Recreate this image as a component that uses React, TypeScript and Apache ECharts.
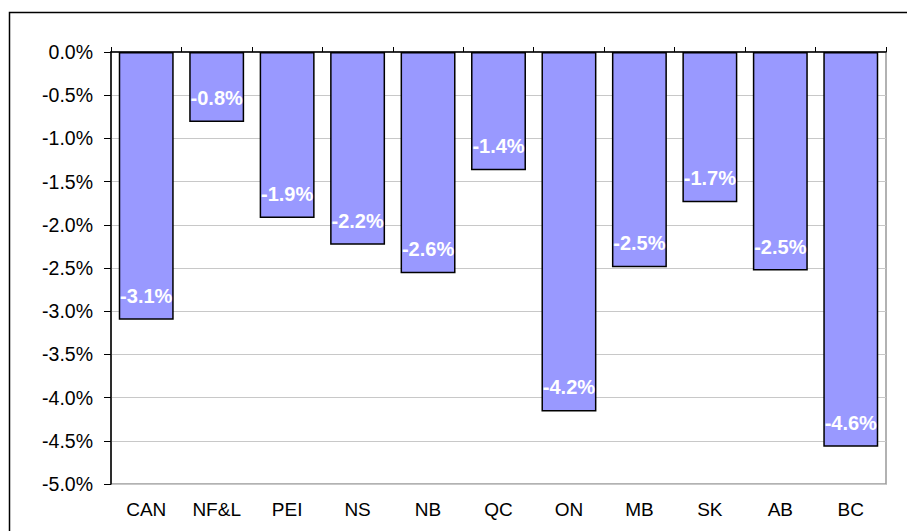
import React, { useEffect, useRef } from "react";
import * as echarts from "echarts";

const categories = ["CAN", "NF&L", "PEI", "NS", "NB", "QC", "ON", "MB", "SK", "AB", "BC"];
const values = [-3.1, -0.81, -1.92, -2.23, -2.56, -1.37, -4.16, -2.49, -1.74, -2.53, -4.57];
const labels = ["-3.1%", "-0.8%", "-1.9%", "-2.2%", "-2.6%", "-1.4%", "-4.2%", "-2.5%", "-1.7%", "-2.5%", "-4.6%"];

export default function App() {
  const ref = useRef<HTMLDivElement>(null);
  useEffect(() => {
    const chart = echarts.init(ref.current!, null, { renderer: "svg" });
    chart.setOption({
      animation: false,
      backgroundColor: "#ffffff",
      graphic: [
        {
          type: "rect",
          shape: { x: 9.5, y: 12.5, width: 1000, height: 1000 },
          style: { fill: "none", stroke: "#000", lineWidth: 1.5 },
          silent: true,
        },
      ],
      grid: {
        left: 111,
        top: 52,
        right: 21,
        bottom: 47,
        show: true,
        borderColor: "#999",
        borderWidth: 1.5,
        backgroundColor: "transparent",
      },
      xAxis: [
        {
          type: "category",
          data: categories,
          position: "top",
          axisLine: { show: true, lineStyle: { color: "#000", width: 1.5 } },
          axisTick: { show: true, inside: false, length: 5, lineStyle: { color: "#000" } },
          axisLabel: { show: false },
          splitLine: { show: false },
        },
        {
          type: "category",
          data: categories,
          position: "bottom",
          axisLine: { show: false },
          axisTick: { show: false },
          axisLabel: {
            show: true,
            color: "#000",
            fontFamily: "Arial, Liberation Sans, sans-serif",
            fontSize: 19,
            margin: 16,
          },
        },
      ],
      yAxis: {
        type: "value",
        min: -5,
        max: 0,
        interval: 0.5,
        axisLine: { show: true, lineStyle: { color: "#000", width: 1.5 } },
        axisTick: { show: true, length: 7, lineStyle: { color: "#000" } },
        axisLabel: {
          color: "#000",
          fontFamily: "Arial, Liberation Sans, sans-serif",
          fontSize: 19.5,
          margin: 18,
          formatter: (v: number) => v.toFixed(1) + "%",
        },
        splitLine: { show: true, lineStyle: { color: "#c8c8c8", width: 1 } },
      },
      series: [
        {
          type: "bar",
          xAxisIndex: 0,
          data: values,
          barCategoryGap: "22%",
          itemStyle: { color: "#9999FF", borderColor: "#000", borderWidth: 1.5 },
          label: {
            show: true,
            position: "insideBottom",
            distance: 14,
            color: "#fff",
            fontWeight: "bold",
            fontSize: 20,
            fontFamily: "Arial, Liberation Sans, sans-serif",
            formatter: (p: any) => labels[p.dataIndex],
          },
        },
      ],
    });
    return () => chart.dispose();
  }, []);
  return (
    <div
      ref={ref}
      style={{ position: "fixed", left: 0, top: 0, width: 907, height: 531 }}
    />
  );
}
